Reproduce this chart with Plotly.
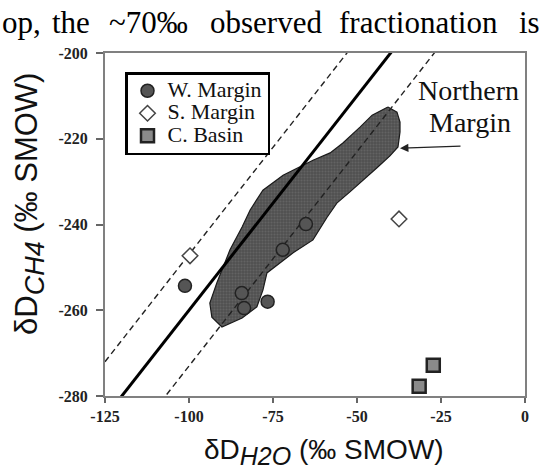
import plotly.graph_objects as go

# ---------------- data ----------------
w_margin_x = [-101.2, -84.3, -83.6, -76.6, -72.1, -65.2]
w_margin_y = [-254.3, -256.0, -259.5, -258.0, -245.9, -239.9]

s_margin_x = [-99.7, -37.5]
s_margin_y = [-247.3, -238.7]

c_basin_x = [-27.3, -31.5]
c_basin_y = [-272.8, -277.7]

northern_x = [-40.8, -38.1, -37.2, -37.2, -37.8, -40.2, -43.8, -47.0, -52.1, -56.0,
              -58.9, -63.1, -69.0, -76.8, -78.0, -79.8, -84.2, -90.2, -93.2, -93.8,
              -91.7, -87.8, -84.2, -81.8, -78.0, -72.0, -67.9, -63.1, -58.0, -54.2,
              -49.1, -45.5]
northern_y = [-212.6, -213.8, -216.1, -218.4, -221.9, -224.0, -226.6, -228.9, -232.4, -235.0,
              -238.3, -243.6, -246.6, -251.3, -255.3, -259.2, -261.8, -263.9, -261.6, -258.3,
              -253.6, -245.9, -240.6, -236.6, -232.0, -228.5, -226.8, -225.0, -223.3, -221.0,
              -217.3, -214.5]

# 1:1 reference lines  dD_CH4 = dD_H2O + offset
solid_offset = -160.0
dashed_offsets = [-147.0, -173.0]
line_x = [-125.0, 0.0]

x_ticks = [-125, -100, -75, -50, -25, 0]
x_tick_labels = ["-125", "-100", "-75", "-50", "-25", "0"]
y_ticks = [-200, -220, -240, -260, -280]
y_tick_labels = ["-200", "-220", "-240", "-260", "-280"]

header_words = ["op,", "the", "~70‰", "observed", "fractionation", "is"]
header_word_px = [0, 50, 107, 208, 337, 517]

# ---------------- layout geometry (pixels) ----------------
W, H = 543, 474
L, R, T, B = 105, 18, 53, 78
pw, ph = W - L - R, H - T - B


def px(xp):
    return (xp - L) / pw


def py(yp):
    return (H - B - yp) / ph


SERIF = "Liberation Serif, Times New Roman, serif"
SANS = "Liberation Sans, Arial, sans-serif"

fig = go.Figure()

# Northern margin field
fig.add_trace(go.Scatter(
    x=northern_x + [northern_x[0]], y=northern_y + [northern_y[0]],
    mode="lines", fill="toself", fillcolor="#555555",
    fillpattern=dict(shape=".", fgcolor="#767676", bgcolor="#505050", size=3, solidity=0.4),
    line=dict(color="#1a1a1a", width=1.2), showlegend=False, hoverinfo="skip"))

# reference lines
for off in dashed_offsets:
    fig.add_trace(go.Scatter(
        x=line_x, y=[v + off for v in line_x], mode="lines",
        line=dict(color="#222", width=1.4, dash="6px,4px"),
        showlegend=False, hoverinfo="skip"))
fig.add_trace(go.Scatter(
    x=line_x, y=[v + solid_offset for v in line_x], mode="lines",
    line=dict(color="#000", width=3), showlegend=False, hoverinfo="skip"))

legend_name = '<span style="font-size:22px">{}</span>'

fig.add_trace(go.Scatter(
    x=w_margin_x, y=w_margin_y, mode="markers", name=legend_name.format("W. Margin"),
    marker=dict(symbol="circle", size=13, color="#555", line=dict(color="#222", width=1.5))))
fig.add_trace(go.Scatter(
    x=s_margin_x, y=s_margin_y, mode="markers", name=legend_name.format("S. Margin"),
    marker=dict(symbol="diamond", size=12, color="#fff", line=dict(color="#444", width=1.5))))
fig.add_trace(go.Scatter(
    x=c_basin_x, y=c_basin_y, mode="markers", name=legend_name.format("C. Basin"),
    marker=dict(symbol="square", size=13, color="#8a8a8a", line=dict(color="#222", width=2.5))))

annotations = []
# header text (justified line of the surrounding document)
for word, xp in zip(header_words, header_word_px):
    annotations.append(dict(
        text=word, xref="paper", yref="paper", x=px(xp), y=py(22),
        xanchor="left", yanchor="middle", showarrow=False,
        font=dict(family=SERIF, size=31, color="#000")))

# axis titles
annotations.append(dict(
    text='δD<sub><i><span style="font-size:27px">CH4</span></i></sub> (‰ SMOW)',
    xref="paper", yref="paper", x=px(29), y=py(204), textangle=-90,
    xanchor="center", yanchor="middle", showarrow=False,
    font=dict(family=SANS, size=31, color="#111")))
annotations.append(dict(
    text='δD<sub><i><span style="font-size:25px">H2O</span></i></sub> (‰ SMOW)',
    xref="paper", yref="paper", x=px(324), y=py(452),
    xanchor="center", yanchor="middle", showarrow=False,
    font=dict(family=SANS, size=28, color="#111")))

# Northern Margin label + arrow
annotations.append(dict(
    text="Northern", xref="paper", yref="paper", x=px(468), y=py(91),
    xanchor="center", yanchor="middle", showarrow=False,
    font=dict(family=SERIF, size=28, color="#111")))
annotations.append(dict(
    text="Margin", xref="paper", yref="paper", x=px(470), y=py(122),
    xanchor="center", yanchor="middle", showarrow=False,
    font=dict(family=SERIF, size=28, color="#111")))
annotations.append(dict(
    text="", x=-37.2, y=-222.2, ax=-18.75, ay=-221.7, xref="x", yref="y",
    axref="x", ayref="y", showarrow=True, arrowhead=2, arrowsize=1.2,
    arrowwidth=1.4, arrowcolor="#222"))

fig.update_layout(
    width=W, height=H,
    margin=dict(l=L, r=R, t=T, b=B),
    paper_bgcolor="white", plot_bgcolor="white",
    annotations=annotations,
    legend=dict(
        x=px(125), y=py(72), xanchor="left", yanchor="top",
        bgcolor="white", bordercolor="#000", borderwidth=2.5,
        font=dict(family=SERIF, size=15, color="#111"),
        itemwidth=30, tracegroupgap=0),
    showlegend=True,
)

tick_font = dict(family=SERIF, size=16, color="#222", weight="bold")

fig.update_xaxes(
    range=[-125, 0], tickmode="array", tickvals=x_ticks, ticktext=x_tick_labels,
    showgrid=False, zeroline=False, showline=True, linecolor="#808080", linewidth=2,
    mirror=True, ticks="outside", ticklen=5, tickwidth=1.5, tickcolor="#666",
    tickfont=tick_font)
fig.update_yaxes(
    range=[-280, -200], tickmode="array", tickvals=y_ticks, ticktext=y_tick_labels,
    showgrid=False, zeroline=False, showline=True, linecolor="#808080", linewidth=2,
    mirror=True, ticks="outside", ticklen=7, tickwidth=1.5, tickcolor="#666",
    ticklabelstandoff=5, tickfont=tick_font)

fig.write_html("out.html")
